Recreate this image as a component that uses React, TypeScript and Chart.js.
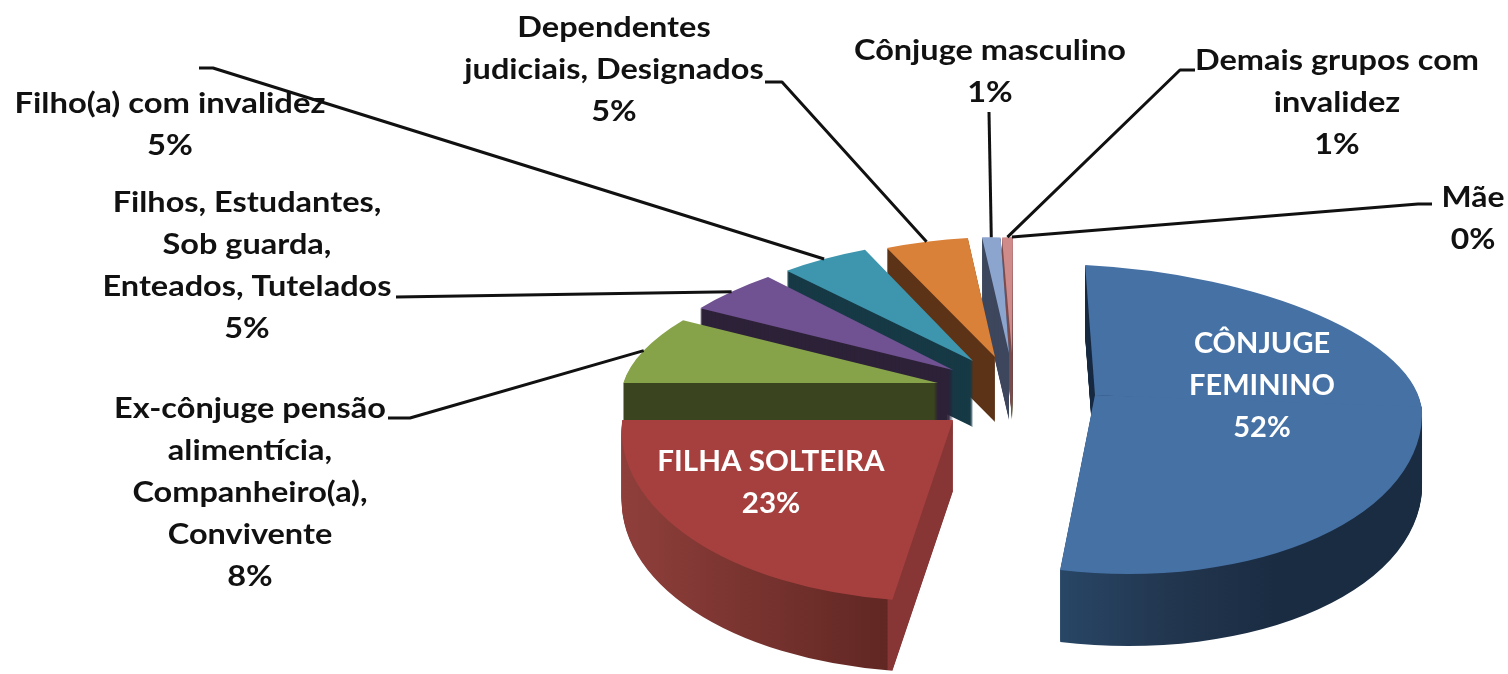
import React, { useEffect, useRef } from "react";
import { Chart, ArcElement, PieController } from "chart.js";

Chart.register(ArcElement, PieController);

const categories = [
  "CÔNJUGE FEMININO",
  "FILHA SOLTEIRA",
  "Ex-cônjuge pensão alimentícia, Companheiro(a), Convivente",
  "Filhos, Estudantes, Sob guarda, Enteados, Tutelados",
  "Filho(a) com invalidez",
  "Dependentes judiciais, Designados",
  "Cônjuge masculino",
  "Demais grupos com invalidez",
  "Mãe",
];
const shares = [51.8, 22.9, 8.1, 4.8, 5.0, 4.9, 1.3, 1.0, 0.2];

const topColors = ["#4671a5", "#a5403f", "#87a34a", "#705191", "#3e96ae", "#d98039", "#8ca5cf", "#cf8a8a", "#bcd19a"];
const wallColors: any[] = [
  "#1a2c42",
  { from: 622, to: 955, stops: [[0, "#8f3f3b"], [0.795, "#612723"], [0.8, "#873535"], [1, "#873535"]] },
  "#3a441e", "#2d2238", "#173a46", "#5c3316", "#3e485e", "#7a4f50", "#6f7d58",
];
const nearWall = { from: 1060, to: 1420, stops: [[0, "#284666"], [0.3, "#22364f"], [0.6, "#1a2c42"], [1, "#1a2c42"]] };

// per-slice explode and perspective styling: shift from the pie centre, then a,b,c,d of a canvas transform
const explode = [[95, -1], [-47, 24], [-62, -13], [-47, -26], [-27, -35], [-5, -39], [9, -43], [12, -43], [13, -43]];
const tilt = [
  [0.962, 0.05, 0.029, 0.382],
  [0.972, 0.01, -0.069, 0.533],
  [0.923, 0.007, -0.137, 0.379],
  [0.919, 0.003, -0.143, 0.381],
  [0.852, 0.014, -0.072, 0.359],
  [0.801, 0.013, -0.046, 0.352],
  [0.672, 0.04, -0.026, 0.338],
  [0.51, 0, -0.009, 0.341],
  [0.5, 0, 0, 0.341],
];
// the nearer part of the largest slice is drawn with its own, stronger perspective: [from angle, a, b, c, d]
const nearSections = [[0, 0.962, 0.05, 0.006, 0.524]];
const depths = [72, 71, 65, 65, 66, 65, 67, 67, 65];
const drawOrder = [8, 7, 6, 5, 4, 3, 2, 1, 0];

// data labels: lines without the percentage, centre x, first line y, colour, horizontal stretch
const labelLines = [
  ["CÔNJUGE", "FEMININO"],
  ["FILHA SOLTEIRA"],
  ["Ex-cônjuge pensão", "alimentícia,", "Companheiro(a),", "Convivente"],
  ["Filhos, Estudantes,", "Sob guarda,", "Enteados, Tutelados"],
  ["Filho(a) com invalidez"],
  ["Dependentes", "judiciais, Designados"],
  ["Cônjuge masculino"],
  ["Demais grupos com", "invalidez"],
  ["Mãe"],
];
const labelX = [1262, 771, 250, 247, 170, 614, 990, 1337, 1473];
const labelY = [344, 462, 409, 203, 104, 28, 51, 61, 198];
const labelColor = ["#ffffff", "#ffffff", "#111", "#111", "#111", "#111", "#111", "#111", "#111"];
const labelStretch = [1.0, 1.02, 1.12, 1.12, 1.13, 1.12, 1.12, 1.12, 1.1];
// leader lines: points from the label towards the slice, whose arc midpoint closes the line
const leaders: (number[][] | null)[] = [
  null,
  null,
  [[388, 418], [410, 418]],
  [[396, 297]],
  [[199, 68], [213, 68]],
  [[765, 82], [782, 82]],
  [[989, 112]],
  [[1195, 70], [1180, 70]],
  [[1432, 204], [1418, 204]],
];

const FONT = "bold 29px Lato, 'Open Sans', sans-serif";

const pie3d = {
  id: "pie3d",
  beforeDatasetsDraw(chart: any) {
    const { ctx } = chart;
    const arcs = chart.getDatasetMeta(0).data;
    for (const i of drawOrder) {
      const el = arcs[i];
      const [dx, dy] = explode[i];
      const ax = el.x + dx;
      const ay = el.y + dy;
      const sections: any[] =
        i === 0
          ? [
              { s: el.startAngle, e: nearSections[0][0], m: tilt[0], wall: wallColors[0] },
              ...nearSections.map((n, j) => ({
                s: n[0] - 0.03,
                e: j + 1 < nearSections.length ? nearSections[j + 1][0] : el.endAngle,
                m: n.slice(1),
                wall: nearWall,
              })),
            ]
          : [{ s: el.startAngle, e: el.endAngle, m: tilt[i], wall: wallColors[i] }];
      const paint = (sec: any, offsetY: number, fill: any) => {
        const [a, b, c, d] = sec.m;
        const ghost = new ArcElement({
          x: el.x, y: el.y, startAngle: sec.s, endAngle: sec.e,
          innerRadius: el.innerRadius, outerRadius: el.outerRadius, circumference: sec.e - sec.s,
          options: { ...el.options, backgroundColor: fill, borderWidth: 0, offset: 0 },
        } as any);
        ctx.save();
        ctx.translate(ax, ay + offsetY);
        ctx.transform(a, b, c, d, 0, 0);
        ctx.translate(-el.x, -el.y);
        ghost.draw(ctx);
        ctx.restore();
      };
      const wallFill = (sec: any) => {
        const wall = sec.wall;
        if (typeof wall === "string") return wall;
        const [a, , c] = sec.m;
        const n = a * a + c * c;
        const p = (X: number) => [el.x + (a * (X - ax)) / n, el.y + (c * (X - ax)) / n];
        const [x0, y0] = p(wall.from);
        const [x1, y1] = p(wall.to);
        const g = ctx.createLinearGradient(x0, y0, x1, y1);
        wall.stops.forEach(([s, col]: [number, string]) => g.addColorStop(s, col));
        return g;
      };
      for (const sec of sections) {
        const fill = wallFill(sec);
        for (let k = depths[i]; k >= 1; k--) paint(sec, k, fill);
      }
      for (const sec of sections) paint(sec, 0, topColors[i]);
    }
    return false;
  },
  afterDraw(chart: any) {
    const { ctx } = chart;
    const arcs = chart.getDatasetMeta(0).data;
    ctx.save();
    ctx.strokeStyle = "#111";
    ctx.lineWidth = 3;
    ctx.lineJoin = "round";
    arcs.forEach((el: any, i: number) => {
      const pts = leaders[i];
      if (!pts) return;
      const mid = (el.startAngle + el.endAngle) / 2;
      const px = Math.cos(mid) * el.outerRadius;
      const py = Math.sin(mid) * el.outerRadius;
      const [a, b, c, d] = tilt[i];
      const ex = el.x + explode[i][0] + a * px + c * py;
      const ey = el.y + explode[i][1] + b * px + d * py;
      ctx.beginPath();
      pts.forEach(([x, y], j) => (j ? ctx.lineTo(x, y) : ctx.moveTo(x, y)));
      ctx.lineTo(ex, ey);
      ctx.stroke();
    });
    ctx.font = FONT;
    ctx.textAlign = "center";
    ctx.textBaseline = "middle";
    labelLines.forEach((lines, i) => {
      ctx.fillStyle = labelColor[i];
      const rows = [...lines, `${Math.round(shares[i])}%`];
      rows.forEach((t, j) => {
        ctx.save();
        ctx.translate(labelX[i], labelY[i] + j * 42);
        ctx.scale(labelStretch[i], 1);
        ctx.fillText(t, 0, 0);
        ctx.restore();
      });
    });
    ctx.restore();
  },
};

export default function App() {
  const ref = useRef<HTMLCanvasElement>(null);
  useEffect(() => {
    document.body.style.margin = "0";
    const chart = new Chart(ref.current!, {
      type: "pie",
      data: {
        labels: categories,
        datasets: [{ data: shares, backgroundColor: topColors, borderWidth: 0 }],
      },
      options: {
        responsive: false,
        animation: false,
        radius: 340,
        layout: { padding: { left: 492, top: 118 } },
        plugins: { legend: { display: false }, tooltip: { enabled: false } },
      } as any,
      plugins: [pie3d as any],
    });
    return () => chart.destroy();
  }, []);
  return <canvas ref={ref} width={1508} height={674} style={{ display: "block" }} />;
}
